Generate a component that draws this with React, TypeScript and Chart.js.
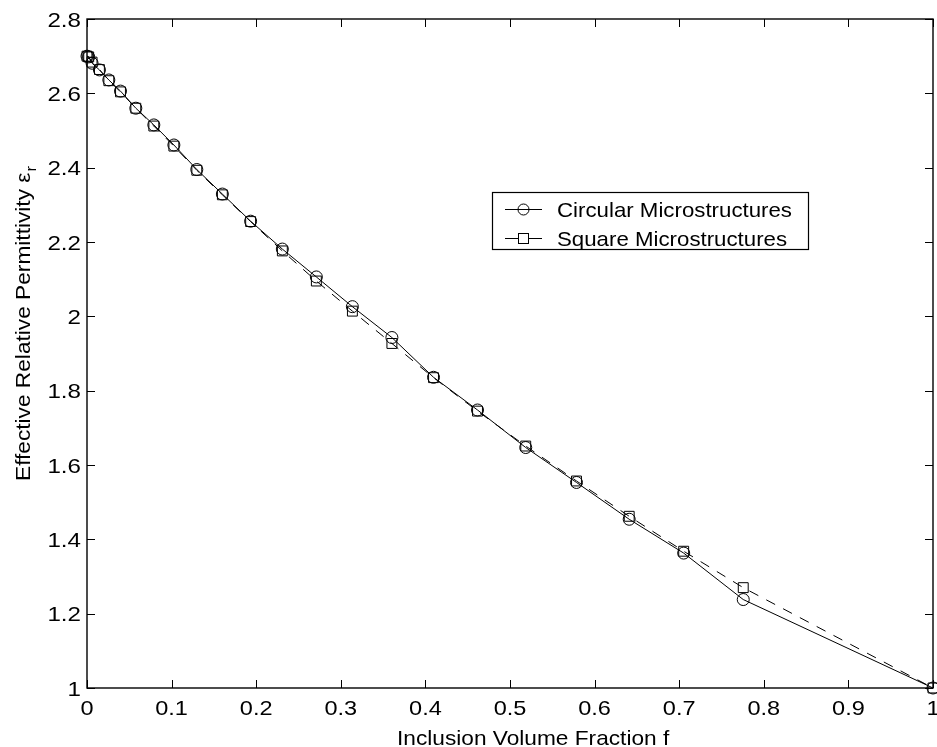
import React, { useEffect, useRef } from "react";
import { Chart, registerables } from "chart.js";
Chart.register(...registerables);

const fractions = [0, 0.002, 0.006, 0.0147, 0.0258, 0.0396, 0.0577, 0.079, 0.1027, 0.1298, 0.16, 0.1934, 0.2309, 0.2711, 0.3137, 0.3604, 0.4096, 0.4616, 0.5186, 0.5786, 0.6409, 0.7053, 0.7757, 1.0];
const circular = [2.700, 2.698, 2.681, 2.663, 2.636, 2.606, 2.560, 2.515, 2.461, 2.395, 2.329, 2.256, 2.181, 2.106, 2.026, 1.943, 1.836, 1.748, 1.647, 1.553, 1.454, 1.363, 1.238, 1.000];
const square = [2.700, 2.698, 2.684, 2.664, 2.634, 2.604, 2.560, 2.512, 2.458, 2.393, 2.327, 2.255, 2.176, 2.095, 2.014, 1.927, 1.835, 1.745, 1.651, 1.557, 1.462, 1.368, 1.270, 1.000];
const xTicks = [0, 0.1, 0.2, 0.3, 0.4, 0.5, 0.6, 0.7, 0.8, 0.9, 1];
const yTicks = [1, 1.2, 1.4, 1.6, 1.8, 2, 2.2, 2.4, 2.6, 2.8];
const xTitle = "Inclusion Volume Fraction f";
const yTitle = "Effective Relative Permittivity ε";
const yTitleSub = "r";
const legendLabels = ["Circular Microstructures", "Square Microstructures"];

const FONT = '"Liberation Sans", Arial, Helvetica, sans-serif';

function txt(ctx: any, s: string, x: number, y: number, size: number, sx: number, align: string, base: string) {
  ctx.save();
  ctx.translate(x, y);
  ctx.scale(sx, 1);
  ctx.font = `${size}px ${FONT}`;
  ctx.textAlign = align;
  ctx.textBaseline = base;
  ctx.fillStyle = "#000";
  ctx.fillText(s, 0, 0);
  ctx.restore();
}

const decor = {
  id: "decor",
  afterDraw(chart: any) {
    const { ctx, chartArea: a, scales } = chart;
    const xs = scales.x;
    const ys = scales.y;
    ctx.save();
    ctx.strokeStyle = "#000";
    ctx.lineWidth = 1.4;
    ctx.strokeRect(a.left, a.top, a.right - a.left, a.bottom - a.top);
    ctx.lineWidth = 1;
    const tl = 8;
    ctx.beginPath();
    xs.ticks.forEach((t: any) => {
      const px = Math.round(xs.getPixelForValue(t.value)) + 0.5;
      ctx.moveTo(px, a.bottom);
      ctx.lineTo(px, a.bottom - tl);
      ctx.moveTo(px, a.top);
      ctx.lineTo(px, a.top + tl);
    });
    ys.ticks.forEach((t: any) => {
      const py = Math.round(ys.getPixelForValue(t.value)) + 0.5;
      ctx.moveTo(a.left, py);
      ctx.lineTo(a.left + tl, py);
      ctx.moveTo(a.right, py);
      ctx.lineTo(a.right - tl, py);
    });
    ctx.stroke();

    // tick labels
    xs.ticks.forEach((t: any) => {
      txt(ctx, String(t.value), xs.getPixelForValue(t.value), 715, 21, 1.12, "center", "alphabetic");
    });
    ys.ticks.forEach((t: any) => {
      txt(ctx, String(t.value), 81, ys.getPixelForValue(t.value) + 7.5, 21, 1.15, "right", "alphabetic");
    });

    // x title
    txt(ctx, xTitle, 397, 745, 21, 1.08, "left", "alphabetic");

    // y title
    ctx.save();
    ctx.translate(30, 481);
    ctx.rotate(-Math.PI / 2);
    ctx.scale(1.08, 1);
    ctx.fillStyle = "#000";
    ctx.textAlign = "left";
    ctx.textBaseline = "alphabetic";
    ctx.font = `21px ${FONT}`;
    ctx.fillText(yTitle, 0, 0);
    const w = ctx.measureText(yTitle).width;
    ctx.font = `15px ${FONT}`;
    ctx.fillText(yTitleSub, w + 1, 6);
    ctx.restore();

    // legend
    const bx = 492.5, by = 192.5, bw = 316, bh = 57;
    ctx.fillStyle = "#fff";
    ctx.fillRect(bx, by, bw, bh);
    ctx.strokeStyle = "#000";
    ctx.lineWidth = 1.2;
    ctx.strokeRect(bx, by, bw, bh);
    ctx.lineWidth = 1;
    const rows = [209, 238];
    ctx.beginPath();
    ctx.moveTo(505, rows[0] + 0.5);
    ctx.lineTo(542, rows[0] + 0.5);
    ctx.stroke();
    ctx.beginPath();
    ctx.arc(523.5, rows[0] + 0.5, 5.5, 0, Math.PI * 2);
    ctx.stroke();
    ctx.beginPath();
    ctx.moveTo(505, rows[1] + 0.5);
    ctx.lineTo(518, rows[1] + 0.5);
    ctx.moveTo(529, rows[1] + 0.5);
    ctx.lineTo(542, rows[1] + 0.5);
    ctx.stroke();
    ctx.strokeRect(518.5, rows[1] - 4.5, 10, 10);
    txt(ctx, legendLabels[0], 557, rows[0] + 8, 21, 1.06, "left", "alphabetic");
    txt(ctx, legendLabels[1], 557, rows[1] + 8, 21, 1.06, "left", "alphabetic");
    ctx.restore();
  },
};

export default function App() {
  const ref = useRef<HTMLCanvasElement | null>(null);
  useEffect(() => {
    if (!ref.current) return;
    const chart = new Chart(ref.current, {
      type: "line",
      data: {
        datasets: [
          {
            label: legendLabels[0],
            data: fractions.map((f, i) => ({ x: f, y: circular[i] })),
            borderColor: "#000",
            borderWidth: 1,
            backgroundColor: "rgba(0,0,0,0)",
            pointStyle: "circle",
            pointRadius: 6,
            pointBorderWidth: 1,
            pointBorderColor: "#000",
            pointBackgroundColor: "rgba(0,0,0,0)",
            tension: 0,
            clip: false,
          },
          {
            label: legendLabels[1],
            data: fractions.map((f, i) => ({ x: f, y: square[i] })),
            borderColor: "#000",
            borderWidth: 1,
            borderDash: [10, 9],
            backgroundColor: "rgba(0,0,0,0)",
            pointStyle: "rect",
            pointRadius: 7,
            pointBorderWidth: 1,
            pointBorderColor: "#000",
            pointBackgroundColor: "rgba(0,0,0,0)",
            tension: 0,
            clip: false,
          },
        ],
      },
      options: {
        animation: false,
        responsive: false,
        maintainAspectRatio: false,
        layout: { autoPadding: false, padding: { top: 19, right: 4, left: 0, bottom: 0 } },
        plugins: { legend: { display: false }, tooltip: { enabled: false }, title: { display: false } },
        scales: {
          x: {
            type: "linear",
            min: 0,
            max: 1,
            afterBuildTicks: (s: any) => {
              s.ticks = xTicks.map((v) => ({ value: v }));
            },
            afterFit: (s: any) => {
              s.height = 59;
            },
            grid: { display: false, drawTicks: false },
            border: { display: false },
            ticks: { display: false },
          },
          y: {
            type: "linear",
            min: 1,
            max: 2.8,
            afterBuildTicks: (s: any) => {
              s.ticks = yTicks.map((v) => ({ value: v }));
            },
            afterFit: (s: any) => {
              s.width = 87;
            },
            grid: { display: false, drawTicks: false },
            border: { display: false },
            ticks: { display: false },
          },
        },
      },
      plugins: [decor],
    });
    return () => chart.destroy();
  }, []);
  return (
    <div style={{ position: "fixed", left: 0, top: 0, width: 937, height: 747, background: "#fff" }}>
      <canvas ref={ref} width={937} height={747} style={{ width: 937, height: 747, display: "block" }} />
    </div>
  );
}
